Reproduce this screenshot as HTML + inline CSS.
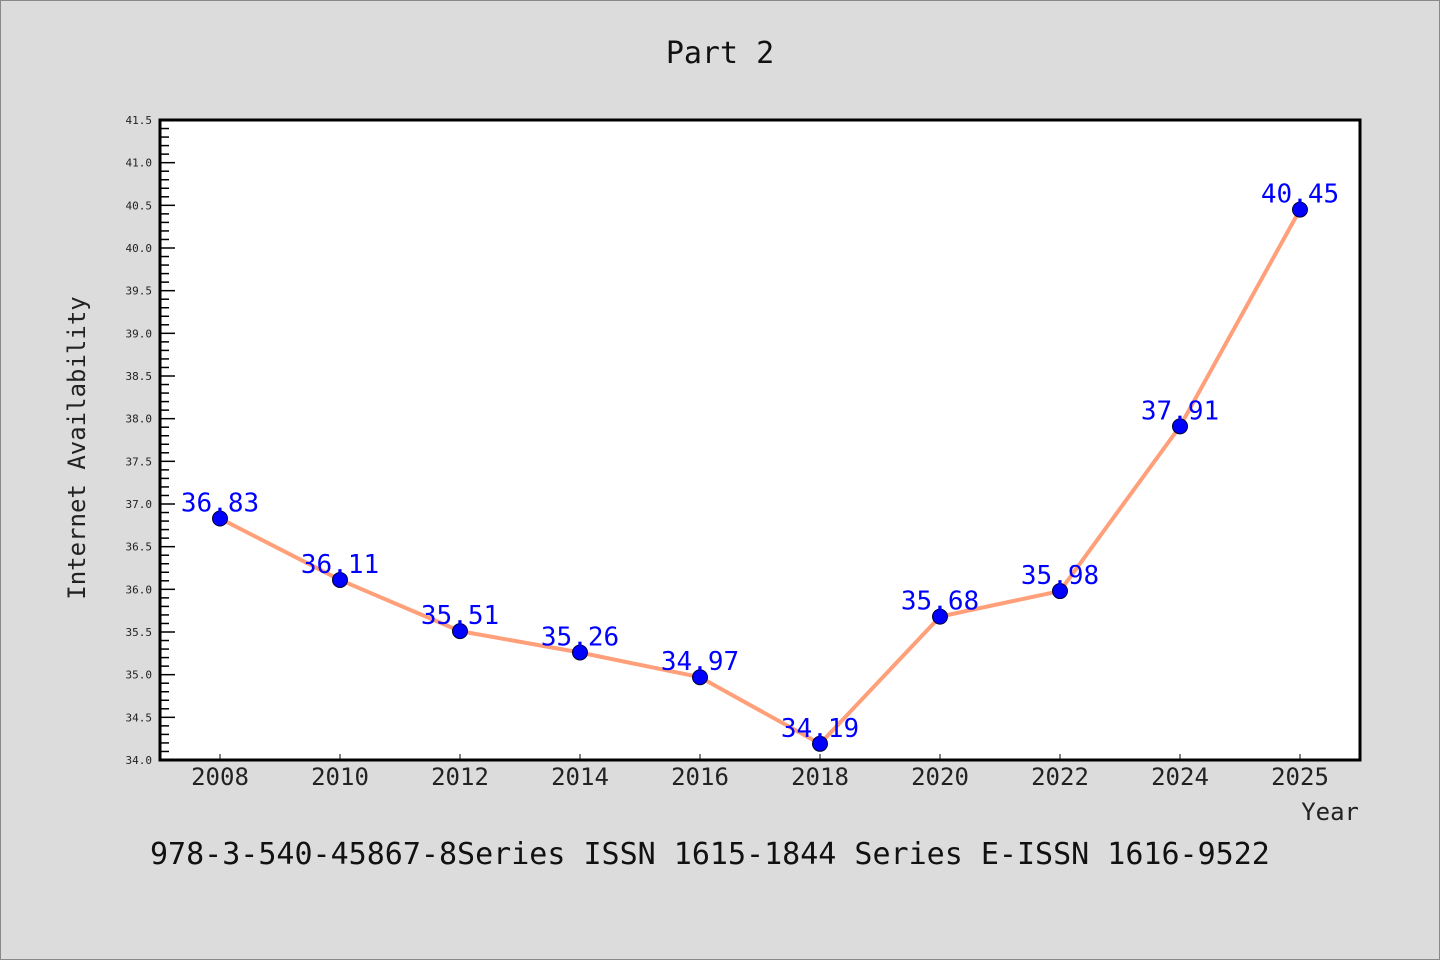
<!DOCTYPE html>
<html><head><meta charset="utf-8"><style>
body{margin:0;background:#dcdcdc;}
svg{display:block;font-family:"WenQuanYi Zen Hei","DejaVu Sans Mono","Liberation Mono",monospace;}
</style></head><body>
<svg id="chart" width="1440" height="960">
<rect x="0.5" y="0.5" width="1439" height="959" fill="#dcdcdc" stroke="#888"/>
<text x="720" y="63" font-size="30" text-anchor="middle" fill="#111">Part 2</text>
<rect x="160" y="120" width="1200" height="640" fill="#fff"/>
<g id="yaxis"></g>
<g id="xaxis"></g>
<g id="series"></g>
<rect x="160" y="120" width="1200" height="640" fill="none" stroke="#000" stroke-width="3"/>
<text transform="translate(85,448) rotate(-90)" font-size="24" text-anchor="middle" fill="#222">Internet Availability</text>
<text x="1359" y="820" font-size="24" text-anchor="end" fill="#222">Year</text>
<text x="150" y="864" font-size="30" fill="#111">978-3-540-45867-8Series ISSN 1615-1844 Series E-ISSN 1616-9522</text>
</svg>
<script>
const categories = ["2008","2010","2012","2014","2016","2018","2020","2022","2024","2025"];
const values = [36.83,36.11,35.51,35.26,34.97,34.19,35.68,35.98,37.91,40.45];
const yTicks = ["34.0","34.5","35.0","35.5","36.0","36.5","37.0","37.5","38.0","38.5","39.0","39.5","40.0","40.5","41.0","41.5"];
const NS="http://www.w3.org/2000/svg";
const yMin=34, yMax=41.5, yTop=120, yBot=760;
function yS(v){return yBot-(v-yMin)/(yMax-yMin)*(yBot-yTop);}
function xS(i){return 220+i*120;}
function mk(tag,attrs,parent){const e=document.createElementNS(NS,tag);for(const k in attrs)e.setAttribute(k,attrs[k]);parent.appendChild(e);return e;}
const ya=document.getElementById('yaxis');
for(let k=0;k<=75;k++){
  const v=yMin+k*0.1, yy=yS(v), major=k%5===0;
  const t=mk('line',{x1:160,x2:major?175:169,y1:yy,y2:yy,stroke:'#000','stroke-width':1.5},ya);
  
  
}
yTicks.forEach(s=>{
  const t=mk('text',{x:152,y:yS(parseFloat(s))+4,'font-size':11,'text-anchor':'end',fill:'#222'},ya);
  t.textContent=s;
  
  
});
const xa=document.getElementById('xaxis');
categories.forEach((c,i)=>{
  const l=mk('line',{x1:xS(i),x2:xS(i),y1:760,y2:754,stroke:'#000','stroke-width':1},xa);
  
  
  const t=mk('text',{x:xS(i),y:785,'font-size':24,'text-anchor':'middle',fill:'#222'},xa);
  t.textContent=c;
  
  
});
const sg=document.getElementById('series');
const pl=mk('polyline',{points:values.map((v,i)=>xS(i)+','+yS(v)).join(' '),fill:'none',stroke:'#ffa07a','stroke-width':4,'stroke-linejoin':'round'},sg);


values.forEach((v,i)=>{
  const c=mk('circle',{cx:xS(i),cy:yS(v),r:7.5,fill:'#0000ff',stroke:'#000033','stroke-width':1},sg);
  
  
  const t=mk('text',{x:xS(i),y:yS(v)-7,'font-size':26,'text-anchor':'middle',fill:'#0000ff'},sg);
  t.textContent=v.toFixed(2);
  
  
});
</script>
</body></html>
